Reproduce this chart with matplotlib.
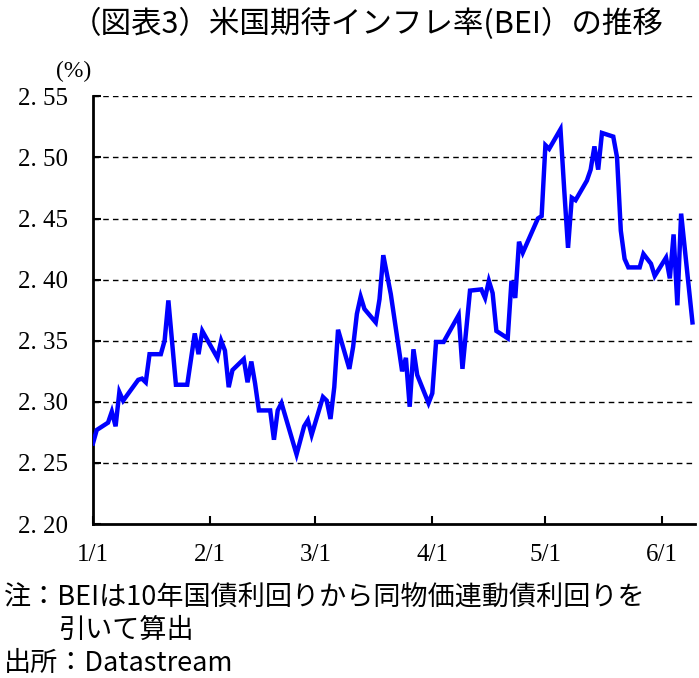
import numpy as np
import matplotlib
matplotlib.use('Agg')
import matplotlib.pyplot as plt
import matplotlib.dates as mdates
import pandas as pd

plt.rcParams['font.family'] = ['Noto Sans CJK JP', 'DejaVu Sans']

# BEI (%) - turning points
days = ['01-01', '01-02', '01-05', '01-06', '01-07', '01-08', '01-09', '01-13', '01-14', '01-15',
        '01-16', '01-19', '01-20', '01-21', '01-23', '01-26', '01-28', '01-29', '01-30', '02-03',
        '02-04', '02-05', '02-06', '02-07', '02-10', '02-11', '02-12', '02-13', '02-14', '02-17',
        '02-18', '02-19', '02-20', '02-24', '02-26', '02-27', '02-28', '03-03', '03-04', '03-05',
        '03-06', '03-07', '03-10', '03-11', '03-12', '03-13', '03-14', '03-17', '03-18', '03-19',
        '03-21', '03-24', '03-25', '03-26', '03-27', '03-28', '03-31', '04-01', '04-02', '04-04',
        '04-08', '04-09', '04-11', '04-14', '04-15', '04-16', '04-17', '04-18', '04-21', '04-22',
        '04-23', '04-24', '04-25', '04-28', '04-29', '04-30', '05-01', '05-02', '05-05', '05-06',
        '05-07', '05-08', '05-09', '05-12', '05-13', '05-14', '05-15', '05-16', '05-19', '05-20',
        '05-21', '05-22', '05-23', '05-26', '05-27', '05-29', '05-30', '06-02', '06-03', '06-04',
        '06-05', '06-06', '06-09']
bei = [2.266, 2.277, 2.283, 2.292, 2.280, 2.308, 2.301, 2.318, 2.319, 2.316,
       2.339, 2.339, 2.350, 2.383, 2.314, 2.314, 2.356, 2.339, 2.358, 2.336,
       2.350, 2.342, 2.312, 2.326, 2.335, 2.316, 2.333, 2.315, 2.293, 2.293,
       2.269, 2.293, 2.299, 2.257, 2.280, 2.285, 2.273, 2.304, 2.301, 2.286,
       2.312, 2.359, 2.327, 2.345, 2.372, 2.386, 2.376, 2.365, 2.384, 2.420,
       2.388, 2.325, 2.336, 2.296, 2.343, 2.322, 2.299, 2.307, 2.349, 2.349,
       2.371, 2.327, 2.391, 2.392, 2.385, 2.399, 2.389, 2.358, 2.352, 2.399,
       2.385, 2.431, 2.422, 2.443, 2.450, 2.452, 2.510, 2.507, 2.523, 2.473,
       2.426, 2.467, 2.465, 2.481, 2.490, 2.509, 2.490, 2.520, 2.517, 2.500,
       2.440, 2.417, 2.410, 2.410, 2.421, 2.413, 2.403, 2.418, 2.401, 2.437,
       2.379, 2.454, 2.365]

yticks = [2.20, 2.25, 2.30, 2.35, 2.40, 2.45, 2.50, 2.55]
ytick_labels = ['2. 20', '2. 25', '2. 30', '2. 35', '2. 40', '2. 45', '2. 50', '2. 55']
month_ticks = ['01-01', '02-01', '03-01', '04-01', '05-01', '06-01']
xtick_labels = ['1/1', '2/1', '3/1', '4/1', '5/1', '6/1']

year = '2019-'
x = pd.to_datetime([year + d for d in days])

fig = plt.figure(figsize=(6.99, 6.78), dpi=100)
ax = fig.add_axes([0.133, 0.227, 0.861, 0.631])

for v in yticks[1:]:
    ax.axhline(v, color='black', lw=1.0, ls=(0, (4, 3)), zorder=1)

ax.plot(x, bei, color='#0000ff', lw=3.2, zorder=3, solid_joinstyle='miter')

ax.set_ylim(2.20, 2.55)
ax.set_xlim(pd.Timestamp(year + '01-01'), pd.Timestamp(year + '06-09 15:00'))

serif = ['Liberation Serif', 'DejaVu Serif']
ax.set_yticks(yticks)
ax.set_yticklabels(ytick_labels, family=serif, fontsize=18)
ax.set_xticks(pd.to_datetime([year + d for d in month_ticks]))
ax.set_xticklabels(xtick_labels, family=serif, fontsize=18)

ax.tick_params(axis='both', direction='in', length=6, width=1.5, colors='black')
ax.tick_params(axis='y', pad=18)
ax.tick_params(axis='x', pad=14)

ax.spines['top'].set_visible(False)
ax.spines['right'].set_visible(False)
ax.spines['left'].set_linewidth(2)
ax.spines['bottom'].set_linewidth(2)

fig.text(0.525, 0.965, '（図表3）米国期待インフレ率(BEI）の推移', ha='center', va='center', fontsize=22)
fig.text(0.105, 0.895, '(%)', ha='center', va='center', fontsize=17, family=serif)

fig.text(0.005, 0.118, '注：BEIは10年国債利回りから同物価連動債利回りを', ha='left', va='center', fontsize=19.5)
fig.text(0.083, 0.070, '引いて算出', ha='left', va='center', fontsize=19.5)
fig.text(0.005, 0.022, '出所：Datastream', ha='left', va='center', fontsize=19.5)

fig.savefig('out.png', dpi=100)
